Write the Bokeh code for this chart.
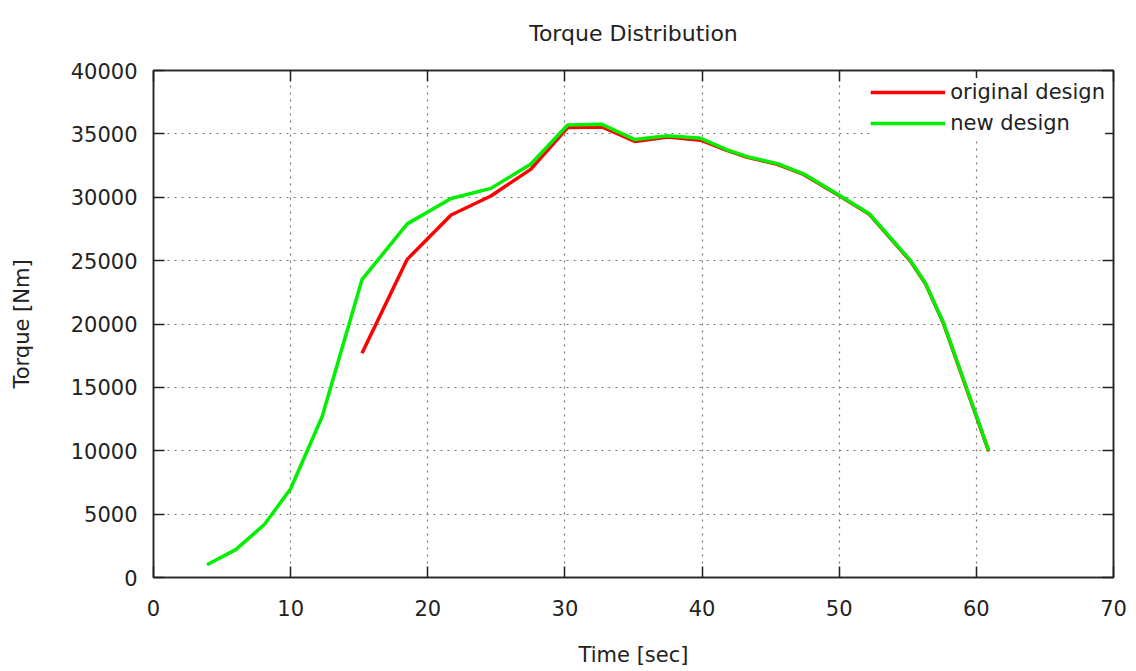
from bokeh.plotting import figure
from bokeh.models import Range1d, FixedTicker, LinearAxis, Legend, LegendItem, CustomLabelingPolicy
from bokeh.embed import file_html
from bokeh.resources import INLINE

# ---- data ----
new_time = [3.9, 6.0, 8.1, 10.0, 12.3, 15.2, 18.5, 21.7, 24.6, 27.5, 30.2, 32.7,
            35.1, 37.5, 39.9, 41.8, 43.3, 45.5, 47.4, 50.1, 52.2, 55.2, 56.3, 57.6, 60.9]
new_torque = [1000, 2200, 4200, 7000, 12700, 23500, 27900, 29900, 30700, 32600, 35700, 35750,
              34550, 34850, 34650, 33750, 33200, 32650, 31850, 30100, 28700, 25000, 23200, 20100, 10000]

orig_time = [15.2, 18.5, 21.7, 24.6, 27.5, 30.2, 32.7, 35.1, 37.5, 39.9, 41.8, 43.3,
             45.5, 47.4, 50.1, 52.2, 55.2, 56.3, 57.6, 60.9]
orig_torque = [17700, 25100, 28600, 30100, 32200, 35500, 35550, 34400, 34750, 34500, 33700, 33150,
               32600, 31800, 30050, 28650, 24950, 23150, 20050, 9950]

x_ticks = [0, 10, 20, 30, 40, 50, 60, 70]
y_ticks = [0, 5000, 10000, 15000, 20000, 25000, 30000, 35000, 40000]

FONT = "DejaVu Sans"
TXT = "#222222"

p = figure(width=1136, height=671, output_backend="svg", toolbar_location=None,
           x_range=Range1d(0, 70), y_range=Range1d(0, 40000),
           title="Torque Distribution",
           min_border_left=153, min_border_right=23, min_border_top=70, min_border_bottom=94)

p.title.align = "center"
p.title.vertical_align = "top"
p.title.text_font = FONT
p.title.text_font_size = "22px"
p.title.text_font_style = "normal"
p.title.text_color = TXT
p.title.standoff = 38

p.outline_line_color = TXT
p.outline_line_width = 1.5
p.background_fill_color = "white"
p.border_fill_color = "white"

for ax in (p.xaxis[0], p.yaxis[0]):
    ax.major_tick_in = 11
    ax.major_tick_out = 0
    ax.minor_tick_line_color = None
    ax.major_tick_line_color = TXT
    ax.major_tick_line_width = 1.5
    ax.axis_line_color = TXT
    ax.axis_line_width = 1.5
    ax.major_label_text_font = FONT
    ax.major_label_text_font_size = "21px"
    ax.major_label_text_color = TXT
    ax.axis_label_text_font = FONT
    ax.axis_label_text_font_size = "21px"
    ax.axis_label_text_font_style = "normal"
    ax.axis_label_text_color = TXT

p.xaxis[0].ticker = FixedTicker(ticks=x_ticks)
p.yaxis[0].ticker = FixedTicker(ticks=y_ticks)
p.xaxis[0].axis_label = "Time [sec]"
p.yaxis[0].axis_label = "Torque [Nm]"
p.xaxis[0].major_label_standoff = 22
p.xaxis[0].axis_label_standoff = 24
p.yaxis[0].major_label_standoff = 16
p.yaxis[0].axis_label_standoff = 34

# mirrored ticks on top and right (no labels drawn)
no_labels = CustomLabelingPolicy(code="""
    for (const i of indices) indices.unset(i)
    return indices
""")
top_ax = LinearAxis(ticker=FixedTicker(ticks=x_ticks), major_tick_in=11, major_tick_out=0,
                    minor_tick_line_color=None, major_label_policy=no_labels,
                    major_label_text_font_size="1px",
                    major_label_standoff=0, axis_line_color=TXT, axis_line_width=1.5,
                    major_tick_line_color=TXT, major_tick_line_width=1.5)
right_ax = LinearAxis(ticker=FixedTicker(ticks=y_ticks), major_tick_in=11, major_tick_out=0,
                      minor_tick_line_color=None, major_label_policy=no_labels,
                      major_label_text_font_size="1px",
                      major_label_standoff=0, axis_line_color=TXT, axis_line_width=1.5,
                      major_tick_line_color=TXT, major_tick_line_width=1.5)
p.add_layout(top_ax, "above")
p.add_layout(right_ax, "right")

for g in (p.xgrid[0], p.ygrid[0]):
    g.grid_line_color = "#777777"
    g.grid_line_dash = "2 5"
    g.grid_line_width = 1.2
p.xgrid[0].ticker = FixedTicker(ticks=x_ticks)
p.ygrid[0].ticker = FixedTicker(ticks=y_ticks)

r_orig = p.line(orig_time, orig_torque, line_color="#ff0000", line_width=3.5)
r_new = p.line(new_time, new_torque, line_color="#00f000", line_width=3.5)

legend = Legend(items=[LegendItem(label="original design", renderers=[r_orig]),
                       LegendItem(label="new design", renderers=[r_new])],
                location="top_right", background_fill_color="white", background_fill_alpha=1.0,
                border_line_color=None, label_text_font=FONT, label_text_font_size="21px",
                label_text_color=TXT, glyph_width=75, glyph_height=28, label_height=28,
                spacing=3, padding=12, margin=8)
p.add_layout(legend, "center")

open("out.html", "w").write(file_html(p, INLINE))
